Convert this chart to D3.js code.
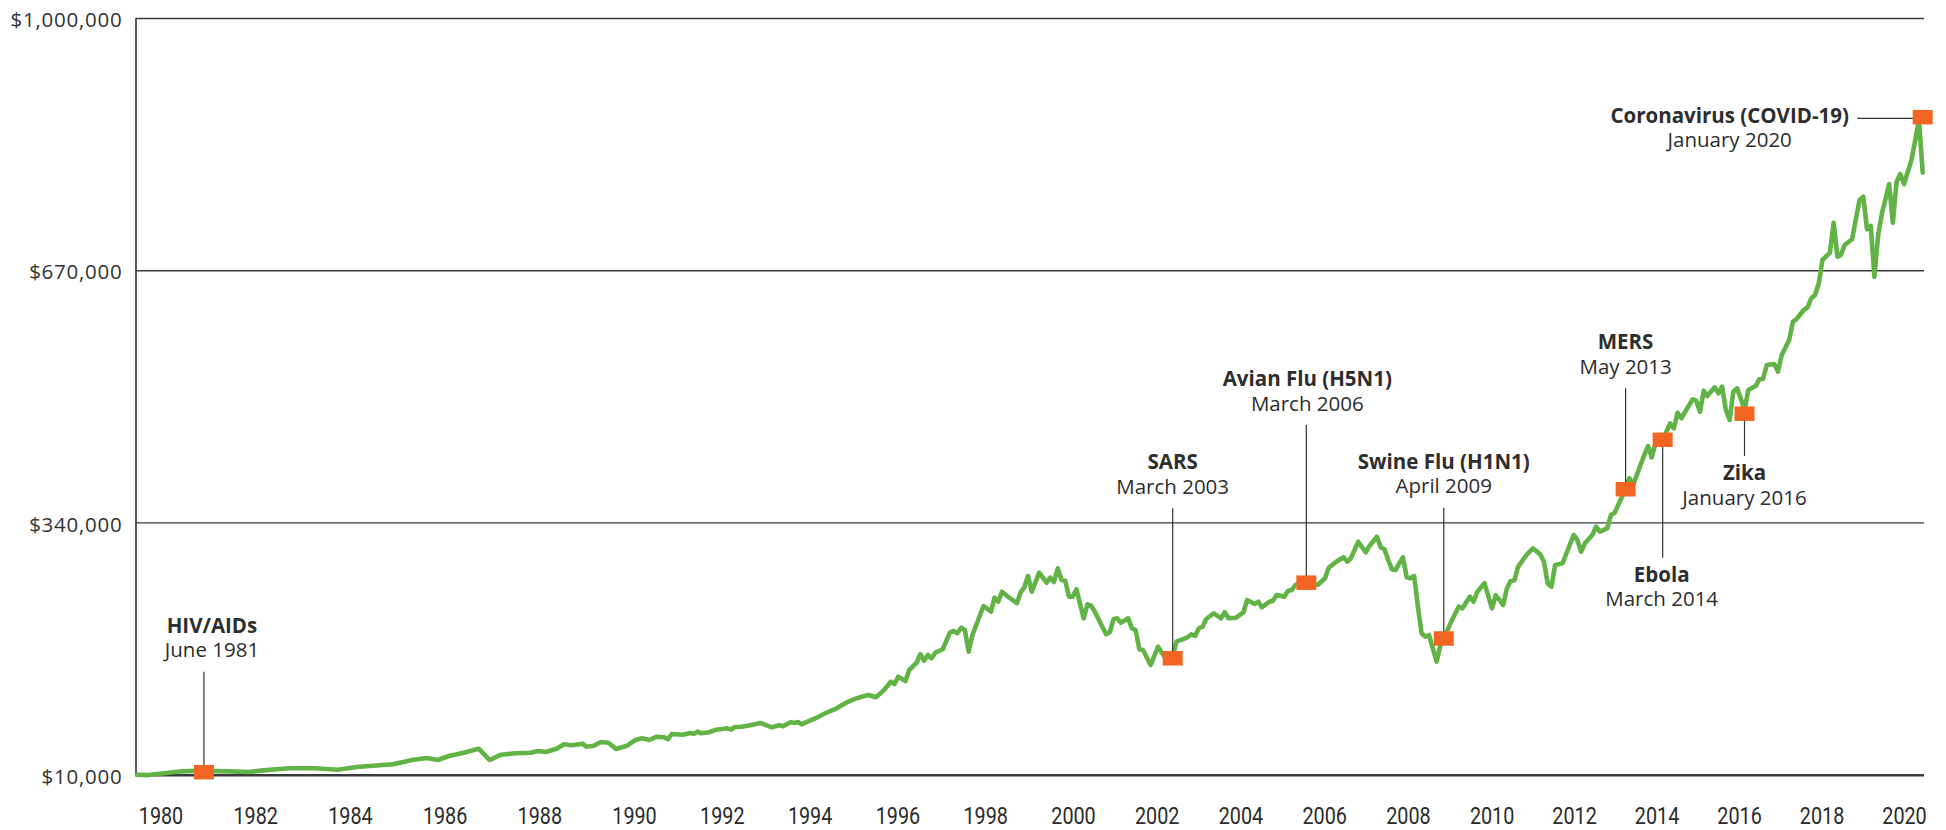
<!DOCTYPE html>
<html><head><meta charset="utf-8">
<script src="https://cdn.jsdelivr.net/npm/d3@7"></script>
<style>
html,body{margin:0;padding:0;background:#fff;}
svg{display:block;}
</style></head><body>
<svg id="chart" width="1946" height="830"></svg>
<script>
// ---------------- DATA ----------------
const dates = [
"1979-12","1980-03","1980-12","1981-04","1982-01","1982-06","1982-10","1983-05","1983-12","1984-06","1984-11","1985-09",
"1986-02","1986-06","1986-09","1986-12","1987-04","1987-08","1987-11","1988-02","1988-06","1988-10","1988-12",
"1989-02","1989-05","1989-07","1989-09","1989-12","1990-01","1990-03","1990-05","1990-07","1990-09","1990-12",
"1991-02","1991-04","1991-06","1991-08","1991-10","1991-11","1991-12","1992-03","1992-05","1992-06","1992-07","1992-08","1992-10","1992-12",
"1993-03","1993-04","1993-05","1993-07","1993-09","1993-12","1994-03","1994-05","1994-06","1994-08","1994-09","1994-10","1994-11","1994-12",
"1995-03","1995-05","1995-07","1995-08","1995-09","1995-11","1996-01","1996-03","1996-05","1996-07","1996-09","1996-11","1996-12",
"1997-01","1997-03","1997-04","1997-06","1997-07","1997-08","1997-09","1997-10","1997-11","1998-01","1998-03","1998-04","1998-05","1998-06","1998-07","1998-08","1998-09","1998-12",
"1999-02","1999-03","1999-04","1999-05","1999-07","1999-09","1999-10","1999-11","1999-12",
"2000-01","2000-03","2000-05","2000-06","2000-07","2000-08","2000-09","2000-10","2000-11","2000-12",
"2001-01","2001-03","2001-04","2001-05","2001-06","2001-09","2001-10","2001-11","2001-12",
"2002-01","2002-03","2002-04","2002-05","2002-06","2002-07","2002-09","2002-11",
"2003-01","2003-03","2003-04","2003-07","2003-08","2003-09","2003-10","2003-11","2003-12",
"2004-02","2004-04","2004-05","2004-06","2004-08","2004-10","2004-11",
"2005-01","2005-02","2005-03","2005-05","2005-06","2005-07","2005-08","2005-09","2005-10","2005-11","2005-12",
"2006-03","2006-06","2006-08","2006-09","2006-11","2007-01","2007-02","2007-03","2007-05","2007-07","2007-08","2007-10","2007-11","2007-12",
"2008-01","2008-02","2008-03","2008-05","2008-06","2008-07","2008-08","2008-09","2008-10","2008-11","2008-12",
"2009-02","2009-03","2009-04","2009-06","2009-08","2009-09","2009-11","2009-12",
"2010-01","2010-03","2010-05","2010-06","2010-08","2010-09","2010-10","2010-11","2010-12",
"2011-02","2011-04","2011-06","2011-07","2011-08","2011-09","2011-10","2011-12",
"2012-03","2012-04","2012-05","2012-06","2012-08","2012-09","2012-10","2012-12",
"2013-01","2013-02","2013-03","2013-05","2013-06","2013-07","2013-10","2013-11","2013-12",
"2014-01","2014-03","2014-05","2014-06","2014-07","2014-08","2014-11","2014-12",
"2015-01","2015-02","2015-03","2015-05","2015-06","2015-07","2015-08","2015-09","2015-10","2015-11","2015-12",
"2016-01","2016-02","2016-04","2016-05","2016-06","2016-07","2016-09","2016-10","2016-11",
"2017-01","2017-02","2017-03","2017-05","2017-06","2017-07","2017-08","2017-09","2017-10","2017-12",
"2018-01","2018-02","2018-03","2018-04","2018-06","2018-08","2018-09","2018-10","2018-11","2018-12",
"2019-01","2019-02","2019-04","2019-05","2019-06","2019-07","2019-08","2019-10","2019-11","2019-12","2020-01"
];
const values = [
10000,9500,14400,15200,14400,13500,15700,18400,18400,16500,20100,23600,
29200,31800,29200,34500,38800,44000,29200,36200,38000,38800,41000,
39700,44000,49800,48500,50600,46600,47900,52800,51900,43600,47900,
55000,57600,55400,59700,58900,56300,63200,62300,64600,63600,66300,64200,65500,68900,
70700,68900,72400,72800,74600,77600,72000,74600,73300,78600,77600,78900,75900,78000,
84200,89400,93700,95600,98600,104200,108600,111700,114300,111300,119900,131700,128700,
138200,132600,147000,156500,167900,159100,166600,162300,169600,174100,196300,198000,195000,202300,199300,170900,192800,230700,
223300,241600,236300,249400,241600,234300,248600,255200,269900,
249400,274300,261200,267700,262100,280000,264700,263800,242900,242900,
252600,214600,232900,231100,223300,193700,196300,213300,214600,
208900,214600,201500,199300,174100,173100,153500,177500,
162300,164400,184000,189800,193700,191500,201500,203600,213700,
221200,214600,222500,214600,215400,222500,238600,
233300,236300,229000,236300,237600,245100,244200,242900,250300,251600,258200,
261200,258200,266900,280800,288700,294400,288700,293100,314800,301000,309200,321400,307500,305300,
290900,278700,277800,294400,268300,266900,269900,229800,195000,190500,192800,
157800,177500,188500,210200,229800,227700,242900,236300,
249400,260400,227700,245100,232000,253900,263400,264300,281700,
296100,306200,298300,288700,260400,256000,284400,286600,
323600,317100,301700,312700,323600,334500,327900,332300,
349800,352800,362800,383800,398000,389000,428300,440000,425000,
443600,447900,469700,463200,483600,476300,501100,499300,
484900,512400,505500,516800,509000,517700,487200,474100,511100,515500,502400,
487000,513300,518500,527300,527700,546000,547300,537300,559100,
578700,602700,605800,618000,621500,633300,637600,652900,683400,693000,
732200,687700,689900,703000,710500,761900,766200,723500,727900,661500,
716100,744500,782800,732200,785800,795900,782800,814200,840400,867500,797600
];
const yTicks = [10000, 340000, 670000, 1000000];
const yearLabels = [1980,1982,1984,1986,1988,1990,1992,1994,1996,1998,2000,2002,2004,2006,2008,2010,2012,2014,2016,2018,2020];
const eventNames = ["HIV/AIDs","SARS","Avian Flu (H5N1)","Swine Flu (H1N1)","MERS","Ebola","Zika","Coronavirus (COVID-19)"];
const eventDateLabels = ["June 1981","March 2003","March 2006","April 2009","May 2013","March 2014","January 2016","January 2020"];
const eventDates = ["1981-06","2003-03","2006-03","2009-04","2013-05","2014-03","2016-01","2020-01"];
const eventValues = [13300,162300,261200,188200,383500,448200,482300,870200];

// ---------------- LAYOUT ----------------
const eventLayout = [
  {pos:"above", ty:632.7, dx:8},
  {pos:"above", ty:469.3, dx:0},
  {pos:"above", ty:386,   dx:1},
  {pos:"above", ty:468.7, dx:0},
  {pos:"above", ty:349.3, dx:0},
  {pos:"below", ty:581.7, dx:-1},
  {pos:"below", ty:480,   dx:0},
  {pos:"left",  ty:122.7, tx:1729.7, lineStart:1857.3}
];
const plot = {left:135.5, right:1924, top:18, bottom:774.7};
const mW = 20, mH = 14.5;
const textColor = "#2d2d2d";
const fontMain = "'Open Sans', 'Noto Sans', sans-serif";

const parse = d3.timeParse("%Y-%m");
const x = d3.scaleTime().domain([parse("1980-01"), parse("2020-01")]).range([140.9, 1922.7]);
const y = d3.scaleLinear().domain([10000, 1000000]).range([plot.bottom, plot.top]);
const labelX = d3.scaleLinear().domain([1980,1990,2000,2010,2020]).range([160.5,634,1073,1491.6,1904]);

const svg = d3.select("#chart");

// Y axis + gridlines
const gy = svg.append("g").attr("transform", `translate(${plot.left},0)`)
  .call(d3.axisLeft(y).tickValues(yTicks)
    .tickSize(-(plot.right - plot.left)).tickSizeOuter(0).tickPadding(13)
    .tickFormat(d => "$" + d3.format(",")(d)));
gy.select(".domain").attr("stroke", "#333").attr("stroke-width", 1.6);
gy.selectAll(".tick line").attr("stroke", "#3a3a3a").attr("stroke-width", d => d === 10000 ? 2.4 : 1.3);
gy.selectAll(".tick text").attr("font-family", fontMain).attr("font-size", 20.5)
  .attr("letter-spacing", "0.75px")
  .attr("fill", "#333").attr("dy", "0.42em");

// X labels
const gx = svg.append("g").attr("transform", `translate(0,${plot.bottom})`)
  .call(d3.axisBottom(labelX).tickValues(yearLabels).tickFormat(d3.format("d")).tickSize(0).tickPadding(0));
gx.select(".domain").remove();
gx.selectAll(".tick text").attr("font-family", "Roboto, 'Liberation Sans', sans-serif")
  .attr("font-size", 23).attr("fill", "#2b2b2b").attr("y", 49).attr("dy", 0)
  .attr("transform", "scale(0.86,1)");

// Line
const series = dates.map((d, i) => ({date: parse(d), value: values[i]}));
const line = d3.line().x(d => x(d.date)).y(d => y(d.value));
svg.append("path").datum(series).attr("d", line)
  .attr("fill", "none").attr("stroke", "#62b346").attr("stroke-width", 4.6)
  .attr("stroke-linejoin", "round").attr("stroke-linecap", "round");

// Events
const events = eventNames.map((n, i) => ({name: n, sub: eventDateLabels[i], date: parse(eventDates[i]), value: eventValues[i], lay: eventLayout[i]}));
const ge = svg.append("g");
events.forEach(ev => {
  const mx = x(ev.date), my = y(ev.value), L = ev.lay;
  let tx, ty = L.ty;
  if (L.pos === "above") {
    tx = mx + L.dx;
    ge.append("line").attr("x1", mx).attr("x2", mx).attr("y1", ty + 39).attr("y2", my)
      .attr("stroke", "#333").attr("stroke-width", 1.2);
  } else if (L.pos === "below") {
    tx = mx + L.dx;
    ge.append("line").attr("x1", mx).attr("x2", mx).attr("y1", my).attr("y2", ty - 24)
      .attr("stroke", "#333").attr("stroke-width", 1.2);
  } else {
    tx = L.tx;
    ge.append("line").attr("x1", L.lineStart).attr("x2", mx).attr("y1", my + 1.2).attr("y2", my + 1.2)
      .attr("stroke", "#333").attr("stroke-width", 1.2);
  }
  ge.append("rect").attr("x", mx - mW / 2).attr("y", my - mH / 2).attr("width", mW).attr("height", mH)
    .attr("fill", "#f26522");
  ge.append("text").attr("x", tx).attr("y", ty).attr("text-anchor", "middle")
    .attr("font-family", fontMain).attr("font-size", 20.5).attr("font-weight", 700)
    .attr("fill", textColor).text(ev.name);
  ge.append("text").attr("x", tx).attr("y", ty + 24.5).attr("text-anchor", "middle")
    .attr("font-family", fontMain).attr("font-size", 20.5).attr("font-weight", 400)
    .attr("fill", textColor).text(ev.sub);
});
</script>
</body></html>
